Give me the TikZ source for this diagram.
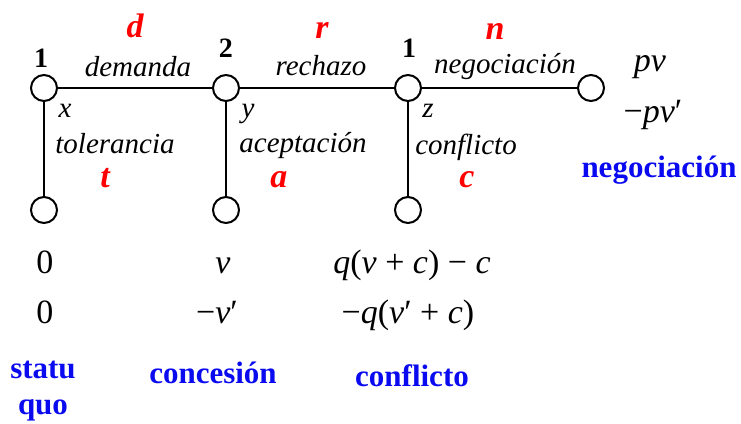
\documentclass[tikz,border=0pt]{standalone}
\usepackage{fontspec}
\setmainfont{Liberation Serif}
\usepackage{tikz}
\definecolor{rojo}{RGB}{255,0,0}
\definecolor{azul}{RGB}{10,10,240}
\newcommand{\vi}[1]{\textit{#1}}

\begin{document}
\begin{tikzpicture}[x=0.5pt, y=-0.5pt, line width=1pt,
    nodo/.style={circle, draw, minimum size=13pt, inner sep=0pt},
    accion/.style={font=\fontsize{14.5}{17}\selectfont\itshape, anchor=base, inner sep=0pt},
    letra/.style={font=\fontsize{17}{19}\selectfont\bfseries\itshape, text=rojo, anchor=base, inner sep=0pt},
    jugador/.style={font=\fontsize{14}{16}\selectfont\bfseries, anchor=base, inner sep=0pt},
    pago/.style={font=\fontsize{17}{20}\selectfont, anchor=base, inner sep=0pt},
    resultado/.style={font=\fontsize{15.5}{18}\selectfont\bfseries, text=azul, anchor=base, inner sep=0pt}]
    \useasboundingbox (0,0) rectangle (741,424);

    % nodos de decision y finales
    \node[nodo] (j1) at (44,88) {};
    \node[nodo] (j2) at (226,88) {};
    \node[nodo] (j3) at (408,88) {};
    \node[nodo] (fn) at (591,88) {};
    \node[nodo] (ft) at (44,210) {};
    \node[nodo] (fa) at (226,210) {};
    \node[nodo] (fc) at (408,210) {};

    % ramas
    \draw (j1) -- (j2);
    \draw (j2) -- (j3);
    \draw (j3) -- (fn);
    \draw (j1) -- (ft);
    \draw (j2) -- (fa);
    \draw (j3) -- (fc);

    % jugadores
    \node[jugador] (n1) at (41,67) {1};
    \node[jugador] (n2) at (226,57) {2};
    \node[jugador] (n3) at (409,57) {1};

    % acciones horizontales
    \node[letra] (ld) at (135,37) {d};
    \node[accion] (td) at (138,76) {demanda};
    \node[letra] (lr) at (322,38) {r};
    \node[accion] (tr) at (321,75) {rechazo};
    \node[letra] (ln) at (495,39) {n};
    \node[accion] (tn) at (505,73) {negociación};

    % acciones verticales
    \node[accion] (vx) at (65,117) {x};
    \node[accion] (vt) at (115,153) {tolerancia};
    \node[letra] (lt) at (105,187) {t};
    \node[accion] (vy) at (248,117) {y};
    \node[accion] (va) at (303,152) {aceptación};
    \node[letra] (la) at (279,187) {a};
    \node[accion] (vz) at (428,117) {z};
    \node[accion] (vc) at (466,154) {conflicto};
    \node[letra] (lc) at (467,187) {c};

    % pagos
    \node[pago] (pn1) at (650,71) {\vi{pv}};
    \node[pago] (pn2) at (653,122) {−\vi{pv}′};
    \node[pago] (pt1) at (45,273) {0};
    \node[pago] (pt2) at (45,323) {0};
    \node[pago] (pa1) at (223,273) {\vi{v}};
    \node[pago] (pa2) at (217,323) {−\vi{v}′};
    \node[pago] (pc1) at (412,273) {\vi{q}(\vi{v} + \vi{c}) − \vi{c}};
    \node[pago] (pc2) at (408,323) {−\vi{q}(\vi{v}′ + \vi{c})};

    % resultados
    \node[resultado] (rn) at (659,177) {negociación};
    \node[resultado] (rs1) at (43,378) {statu};
    \node[resultado] (rs2) at (43,414) {quo};
    \node[resultado] (ra) at (213,383) {concesión};
    \node[resultado] (rc) at (412,386) {conflicto};
\end{tikzpicture}
\end{document}
